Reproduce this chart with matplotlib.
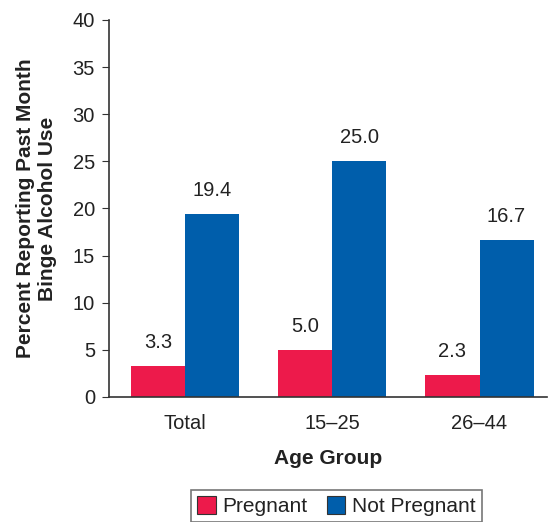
import numpy as np
import matplotlib.pyplot as plt

# data
groups = ["Total", "15\u201325", "26\u201344"]
pregnant = [3.3, 5.0, 2.3]
not_pregnant = [19.4, 25.0, 16.7]

plt.rcParams['font.family'] = ['Liberation Sans', 'DejaVu Sans']

red = "#ED1A4B"
blue = "#005EAB"
axis_col = "#333333"
text_col = "#222222"

fig = plt.figure(figsize=(5.5, 5.22), dpi=100)
ax = fig.add_axes([0.198, 0.2395, 0.797, 0.7222])

x = np.arange(len(groups))
w = 0.367
b1 = ax.bar(x - w/2, pregnant, w, color=red, label="Pregnant")
b2 = ax.bar(x + w/2, not_pregnant, w, color=blue, label="Not Pregnant")

# value labels above each bar
for bars, vals in ((b1, pregnant), (b2, not_pregnant)):
    for rect, v in zip(bars, vals):
        ax.annotate(f"{v:.1f}", (rect.get_x() + rect.get_width()/2, v),
                    xytext=(0, 10), textcoords="offset points",
                    ha="center", va="bottom", fontsize=14.5, color=text_col)

ax.set_xlim(-0.517, 2.46)
ax.set_ylim(0, 40)
ax.set_yticks(range(0, 41, 5))
ax.set_xticks(x)
ax.set_xticklabels(groups)
ax.tick_params(axis="y", labelsize=14.5, length=5, color=axis_col, labelcolor=text_col, pad=5)
ax.tick_params(axis="x", labelsize=14.5, length=0, labelcolor=text_col, pad=12)

for s in ("top", "right"):
    ax.spines[s].set_visible(False)
for s in ("left", "bottom"):
    ax.spines[s].set_color(axis_col)
    ax.spines[s].set_linewidth(1.2)

ax.set_xlabel("Age Group", fontsize=15, fontweight="bold", labelpad=12, color=text_col)
ax.set_ylabel("Percent Reporting Past Month\nBinge Alcohol Use", fontsize=15,
              fontweight="bold", labelpad=11, linespacing=1.2, color=text_col)

leg = fig.legend(loc="upper center", bbox_to_anchor=(0.611, 0.0613), ncol=2,
                 fontsize=15, frameon=True, fancybox=False, edgecolor="#555555",
                 handlelength=0.9, handleheight=0.9, handletextpad=0.3,
                 columnspacing=0.95, borderpad=0.3, borderaxespad=0)
leg.get_frame().set_linewidth(1.2)
for t in leg.get_texts():
    t.set_color(text_col)
for h in leg.legend_handles:
    h.set_edgecolor("#333333")
    h.set_linewidth(0.8)

fig.savefig("out.png", dpi=100)
